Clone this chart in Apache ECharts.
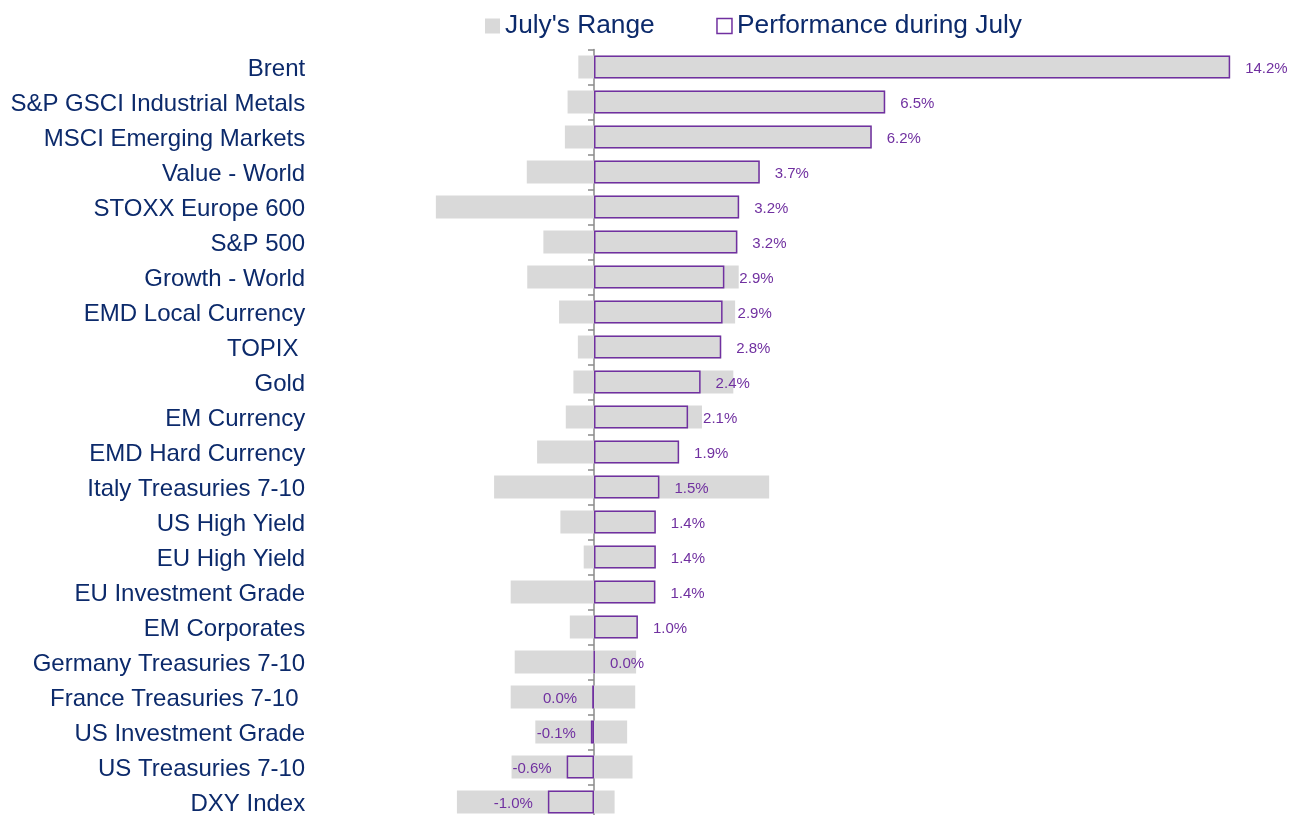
<!DOCTYPE html>
<html>
<head>
<meta charset="utf-8">
<script src="https://cdn.jsdelivr.net/npm/echarts@6/dist/echarts.min.js"></script>
<style>
  html, body { margin: 0; padding: 0; background: #ffffff; }
  #chart { width: 1293px; height: 815px; }
</style>
</head>
<body>
<div id="chart"></div>
<script>
const categories = [
  "Brent", "S&P GSCI Industrial Metals", "MSCI Emerging Markets", "Value - World",
  "STOXX Europe 600", "S&P 500", "Growth - World", "EMD Local Currency", "TOPIX ",
  "Gold", "EM Currency", "EMD Hard Currency", "Italy Treasuries 7-10", "US High Yield",
  "EU High Yield", "EU Investment Grade", "EM Corporates", "Germany Treasuries 7-10",
  "France Treasuries 7-10 ", "US Investment Grade", "US Treasuries 7-10", "DXY Index"
];
const rangeLow = [
  -0.35, -0.59, -0.65, -1.50, -3.53, -1.13, -1.49, -0.78, -0.36, -0.46, -0.63,
  -1.27, -2.23, -0.75, -0.23, -1.86, -0.54, -1.77, -1.86, -1.31, -1.84, -3.06
];
const rangeHigh = [
  14.2, 6.5, 6.2, 3.7, 3.24, 3.2, 3.23, 3.15, 2.84, 3.11, 2.41,
  1.9, 3.91, 1.38, 1.38, 1.37, 0.98, 0.94, 0.92, 0.74, 0.86, 0.46
];
const performance = [
  14.2, 6.5, 6.2, 3.7, 3.24, 3.2, 2.91, 2.87, 2.84, 2.38, 2.1,
  1.9, 1.46, 1.38, 1.38, 1.37, 0.98, 0.01, -0.04, -0.07, -0.61, -1.03
];

const NAVY = '#0c2a6b';
const PURPLE = '#7030A0';
const GREY = '#D9D9D9';

function fmtPct(v) {
  const r = Math.round(v * 10) / 10;
  return (r === 0 ? 0 : r).toFixed(1) + '%';
}

const chart = echarts.init(document.getElementById('chart'), null, { renderer: 'canvas' });
chart.setOption({
  animation: false,
  backgroundColor: '#ffffff',
  textStyle: { fontFamily: 'Liberation Sans, Arial, sans-serif' },
  legend: {
    left: 480,
    top: 8,
    itemWidth: 15,
    itemHeight: 15,
    itemGap: 61.5,
    icon: 'rect',
    textStyle: { color: NAVY, fontSize: 26.3, fontFamily: 'Liberation Sans, Arial, sans-serif' },
    data: [
      { name: "July's Range", itemStyle: { color: GREY } },
      { name: 'Performance during July', itemStyle: { color: '#ffffff', borderColor: PURPLE, borderWidth: 1.5 } }
    ]
  },
  grid: { left: 325.2, width: 940.8, top: 49.5, height: 770, outerBoundsMode: 'none', containLabel: false },
  xAxis: {
    type: 'value',
    min: -6,
    max: 15,
    show: false,
    splitLine: { show: false }
  },
  yAxis: {
    type: 'category',
    data: categories,
    inverse: true,
    axisLine: { show: true, onZero: true, lineStyle: { color: '#8a8a8a', width: 1.5 } },
    axisTick: { show: true, length: 6, lineStyle: { color: '#8a8a8a', width: 1.5 } },
    axisLabel: {
      margin: 20,
      formatter: v => '{a|' + v + '}',
      rich: {
        a: {
          color: NAVY,
          fontSize: 24,
          lineHeight: 24,
          padding: [5, 0, 0, 0],
          fontFamily: 'Liberation Sans, Arial, sans-serif'
        }
      }
    },
    splitLine: { show: false }
  },
  series: [
    {
      name: "July's Range",
      type: 'bar',
      data: rangeHigh,
      barWidth: 23,
      barGap: '-100%',
      itemStyle: { color: GREY },
      silent: true
    },
    {
      name: "July's Range",
      type: 'bar',
      data: rangeLow,
      barWidth: 23,
      barGap: '-100%',
      itemStyle: { color: GREY },
      silent: true
    },
    {
      name: 'Performance during July',
      type: 'bar',
      barWidth: 23,
      barGap: '-100%',
      z: 3,
      itemStyle: { color: 'rgba(0,0,0,0)', borderColor: PURPLE, borderWidth: 1.5 },
      data: performance.map(v => ({
        value: v,
        label: { position: v < 0 ? 'left' : 'right' }
      })),
      label: {
        show: true,
        distance: 15,
        offset: [0, 2],
        color: PURPLE,
        fontSize: 15,
        fontFamily: 'Liberation Sans, Arial, sans-serif',
        formatter: p => fmtPct(p.value)
      }
    }
  ]
});
</script>
</body>
</html>
